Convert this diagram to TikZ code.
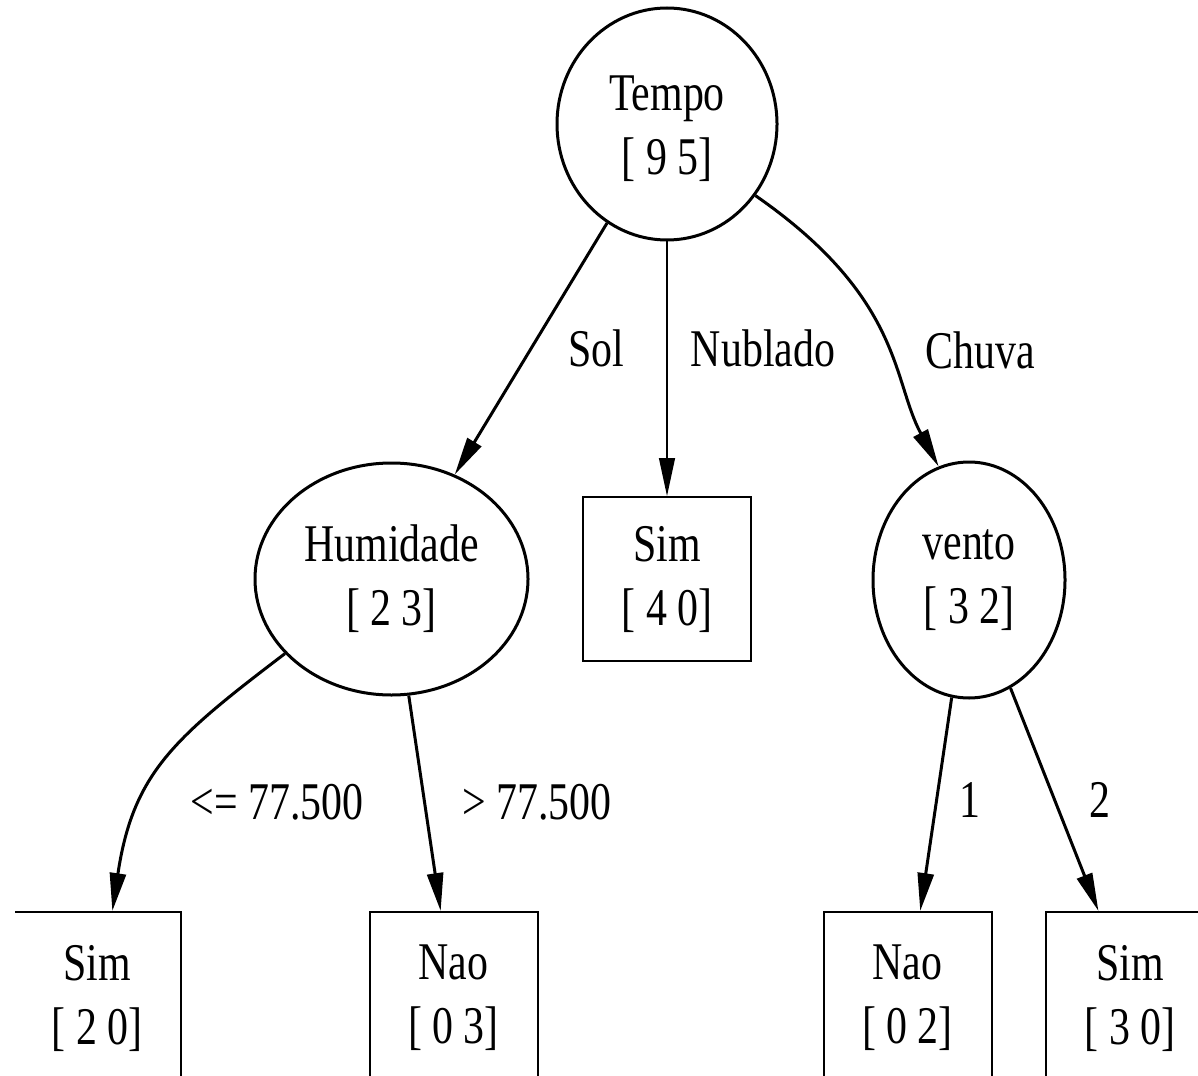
\documentclass[tikz,border=0pt]{standalone}
\usepackage{fontspec}
\setmainfont{Liberation Serif}[FakeStretch=0.79]
\usetikzlibrary{arrows.meta,shapes.geometric}
\begin{document}
\begin{tikzpicture}[x=1pt,y=-1pt,
  every node/.style={font=\fontsize{53}{64}\selectfont, align=center, inner sep=0pt},
  split/.style={ellipse, draw, line width=3pt},
  leaf/.style={rectangle, draw, line width=2pt, minimum width=168pt, minimum height=164pt},
  lowleaf/.style={leaf, minimum height=172pt},
  edge/.style={line width=3pt, -{Triangle[length=38pt,width=16pt]}},
  thinedge/.style={line width=1.3pt, -{Triangle[length=38pt,width=16pt]}}]
\useasboundingbox (0,0) rectangle (1198,1075);
\clip (15,0) rectangle (1198,1075);

% decision nodes
\node[split, minimum width=220pt, minimum height=232pt] (tempo) at (667,124) {\rule{0pt}{44pt}Tempo\\{[} 9 5]};
\node[split, minimum width=273pt, minimum height=232pt] (humidade) at (391.5,579) {Humidade\\{[} 2 3]};
\node[split, minimum width=192pt, minimum height=236pt] (vento) at (969,580) {vento\\{[} 3 2]};

% leaves
\node[leaf] (simM) at (667,579) {Sim\\{[} 4 0]};
\node[lowleaf] (simL) at (97,998) {Sim\\{[} 2 0]};
\node[lowleaf] (naoL) at (453.5,998) {Nao\\{[} 0 3]};
\node[lowleaf] (naoR) at (907.5,998) {Nao\\{[} 0 2]};
% last leaf runs past the right margin; its text stays centred at x = 1130
\node[lowleaf, minimum width=236pt] (simR) at (1164,998)
  {Sim\hspace*{68pt}\\{[} 3 0]\hspace*{68pt}};

% branches
\draw[edge] (tempo) -- (humidade);
\draw[thinedge] (tempo) -- (simM);
\draw[edge] (tempo.-39) .. controls (903,298) and (892,380) .. (vento.105);
\draw[edge] (humidade.-145) .. controls (174,738) and (133,773) .. (simL.80);
\draw[edge] (humidade) -- (naoL);
\draw[edge] (vento) -- (naoR);
\draw[edge] (vento.-69) -- (simR.127);

% branch labels
\node (lsol) at (596,348) {Sol};
\node (lnub) at (763,348) {Nublado};
\node (lchu) at (980,350) {Chuva};
\node (lle) at (277,802) {<= 77.500};
\node (lgt) at (537,802) {> 77.500};
\node (l1) at (970,800) {1};
\node (l2) at (1100,800) {2};
\end{tikzpicture}
\end{document}
